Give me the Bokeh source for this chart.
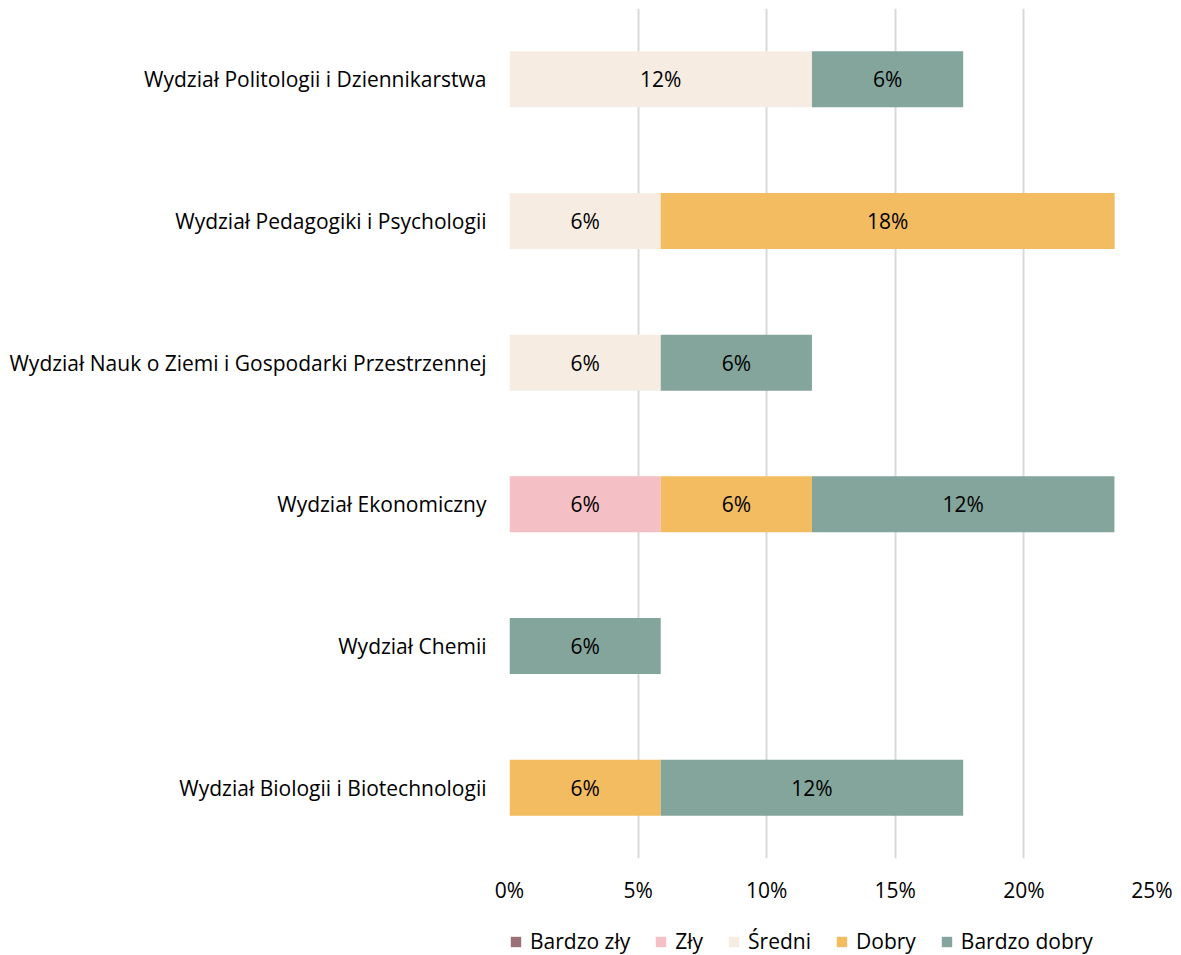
from bokeh.plotting import figure
from bokeh.layouts import column
from bokeh.models import ColumnDataSource, Range1d, FactorRange, NumeralTickFormatter, Legend, LegendItem, FixedTicker
from bokeh.embed import file_html
from bokeh.resources import INLINE
from bokeh.core.properties import value

categories = [
    "Wydział Politologii i Dziennikarstwa",
    "Wydział Pedagogiki i Psychologii",
    "Wydział Nauk o Ziemi i Gospodarki Przestrzennej",
    "Wydział Ekonomiczny",
    "Wydział Chemii",
    "Wydział Biologii i Biotechnologii",
]
series = ["Bardzo zły", "Zły", "Średni", "Dobry", "Bardzo dobry"]
bardzo_zly   = [0.0, 0.0, 0.0, 0.0, 0.0, 0.0]
zly          = [0.0, 0.0, 0.0, 0.0588, 0.0, 0.0]
sredni       = [0.1176, 0.0588, 0.0588, 0.0, 0.0, 0.0]
dobry        = [0.0, 0.1765, 0.0, 0.0588, 0.0, 0.0588]
bardzo_dobry = [0.0588, 0.0, 0.0588, 0.1176, 0.0588, 0.1176]
colors = ["#9A7276", "#F4BFC5", "#F6ECE2", "#F4BC61", "#84A59C"]
x_ticks = [0, 0.05, 0.10, 0.15, 0.20, 0.25]

FONT = "Open Sans"
FS = "21px"
values = [bardzo_zly, zly, sredni, dobry, bardzo_dobry]

p = figure(
    y_range=FactorRange(*reversed(categories)),
    x_range=Range1d(0, 0.25),
    width=1172, height=908,
    min_border_left=509, min_border_top=8, min_border_right=20, min_border_bottom=50,
    output_backend="svg", toolbar_location=None,
)

data = {"cat": categories}
for s, v in zip(series, values):
    data[s] = v
src = ColumnDataSource(data)
p.hbar_stack(series, y="cat", height=0.395, color=colors, source=src, line_color=None)

# labels
lx, ly, lt = [], [], []
for i, c in enumerate(categories):
    left = 0.0
    for v in values:
        w = v[i]
        if w > 0:
            lx.append(left + w / 2)
            ly.append(c)
            lt.append(f"{round(w*100)}%")
        left += w
p.text(x=lx, y=ly, text=lt, text_align="center", text_baseline="middle",
       text_font=value(FONT), text_font_size=FS, text_color="#000000")

p.xaxis.ticker = FixedTicker(ticks=x_ticks)
p.xaxis.formatter = NumeralTickFormatter(format="0%")
for ax in (p.xaxis[0], p.yaxis[0]):
    ax.axis_line_color = None
    ax.major_tick_line_color = None
    ax.minor_tick_line_color = None
    ax.major_tick_out = 0
    ax.major_tick_in = 0
    ax.minor_tick_out = 0
    ax.major_label_text_font = FONT
    ax.major_label_text_font_size = FS
    ax.major_label_text_color = "#000000"
p.xaxis.major_label_standoff = 17
p.yaxis.major_label_standoff = 23

p.xgrid.ticker = FixedTicker(ticks=x_ticks)
p.xgrid.grid_line_color = "#D9D9D9"
p.xgrid.grid_line_width = 2
p.ygrid.grid_line_color = None
p.outline_line_color = None

# legend strip (same data source; its bars are hidden, only the legend shows)
lg = figure(
    y_range=FactorRange(*reversed(categories)),
    x_range=Range1d(1, 2),
    width=1172, height=47,
    x_axis_location=None, y_axis_location=None,
    min_border_left=0, min_border_top=0, min_border_right=0, min_border_bottom=0,
    output_backend="svg", toolbar_location=None,
)
lrs = lg.hbar_stack(series, y="cat", height=0.395, color=colors, source=src, line_color=None)
for r in lrs:
    r.visible = False
lg.grid.grid_line_color = None
lg.outline_line_color = None

legend = Legend(
    items=[LegendItem(label=s, renderers=[r]) for s, r in zip(series, lrs)],
    orientation="horizontal",
    location=(0, 0),
    label_text_font=FONT, label_text_font_size=FS, label_text_color="#000000",
    glyph_width=13, glyph_height=13, spacing=24, label_standoff=8,
    border_line_color=None, background_fill_alpha=0, padding=0, margin=0,
    inactive_fill_alpha=0,
)
lg.add_layout(legend, "center")

open("out.html", "w").write(file_html(column(p, lg, spacing=0), INLINE))
